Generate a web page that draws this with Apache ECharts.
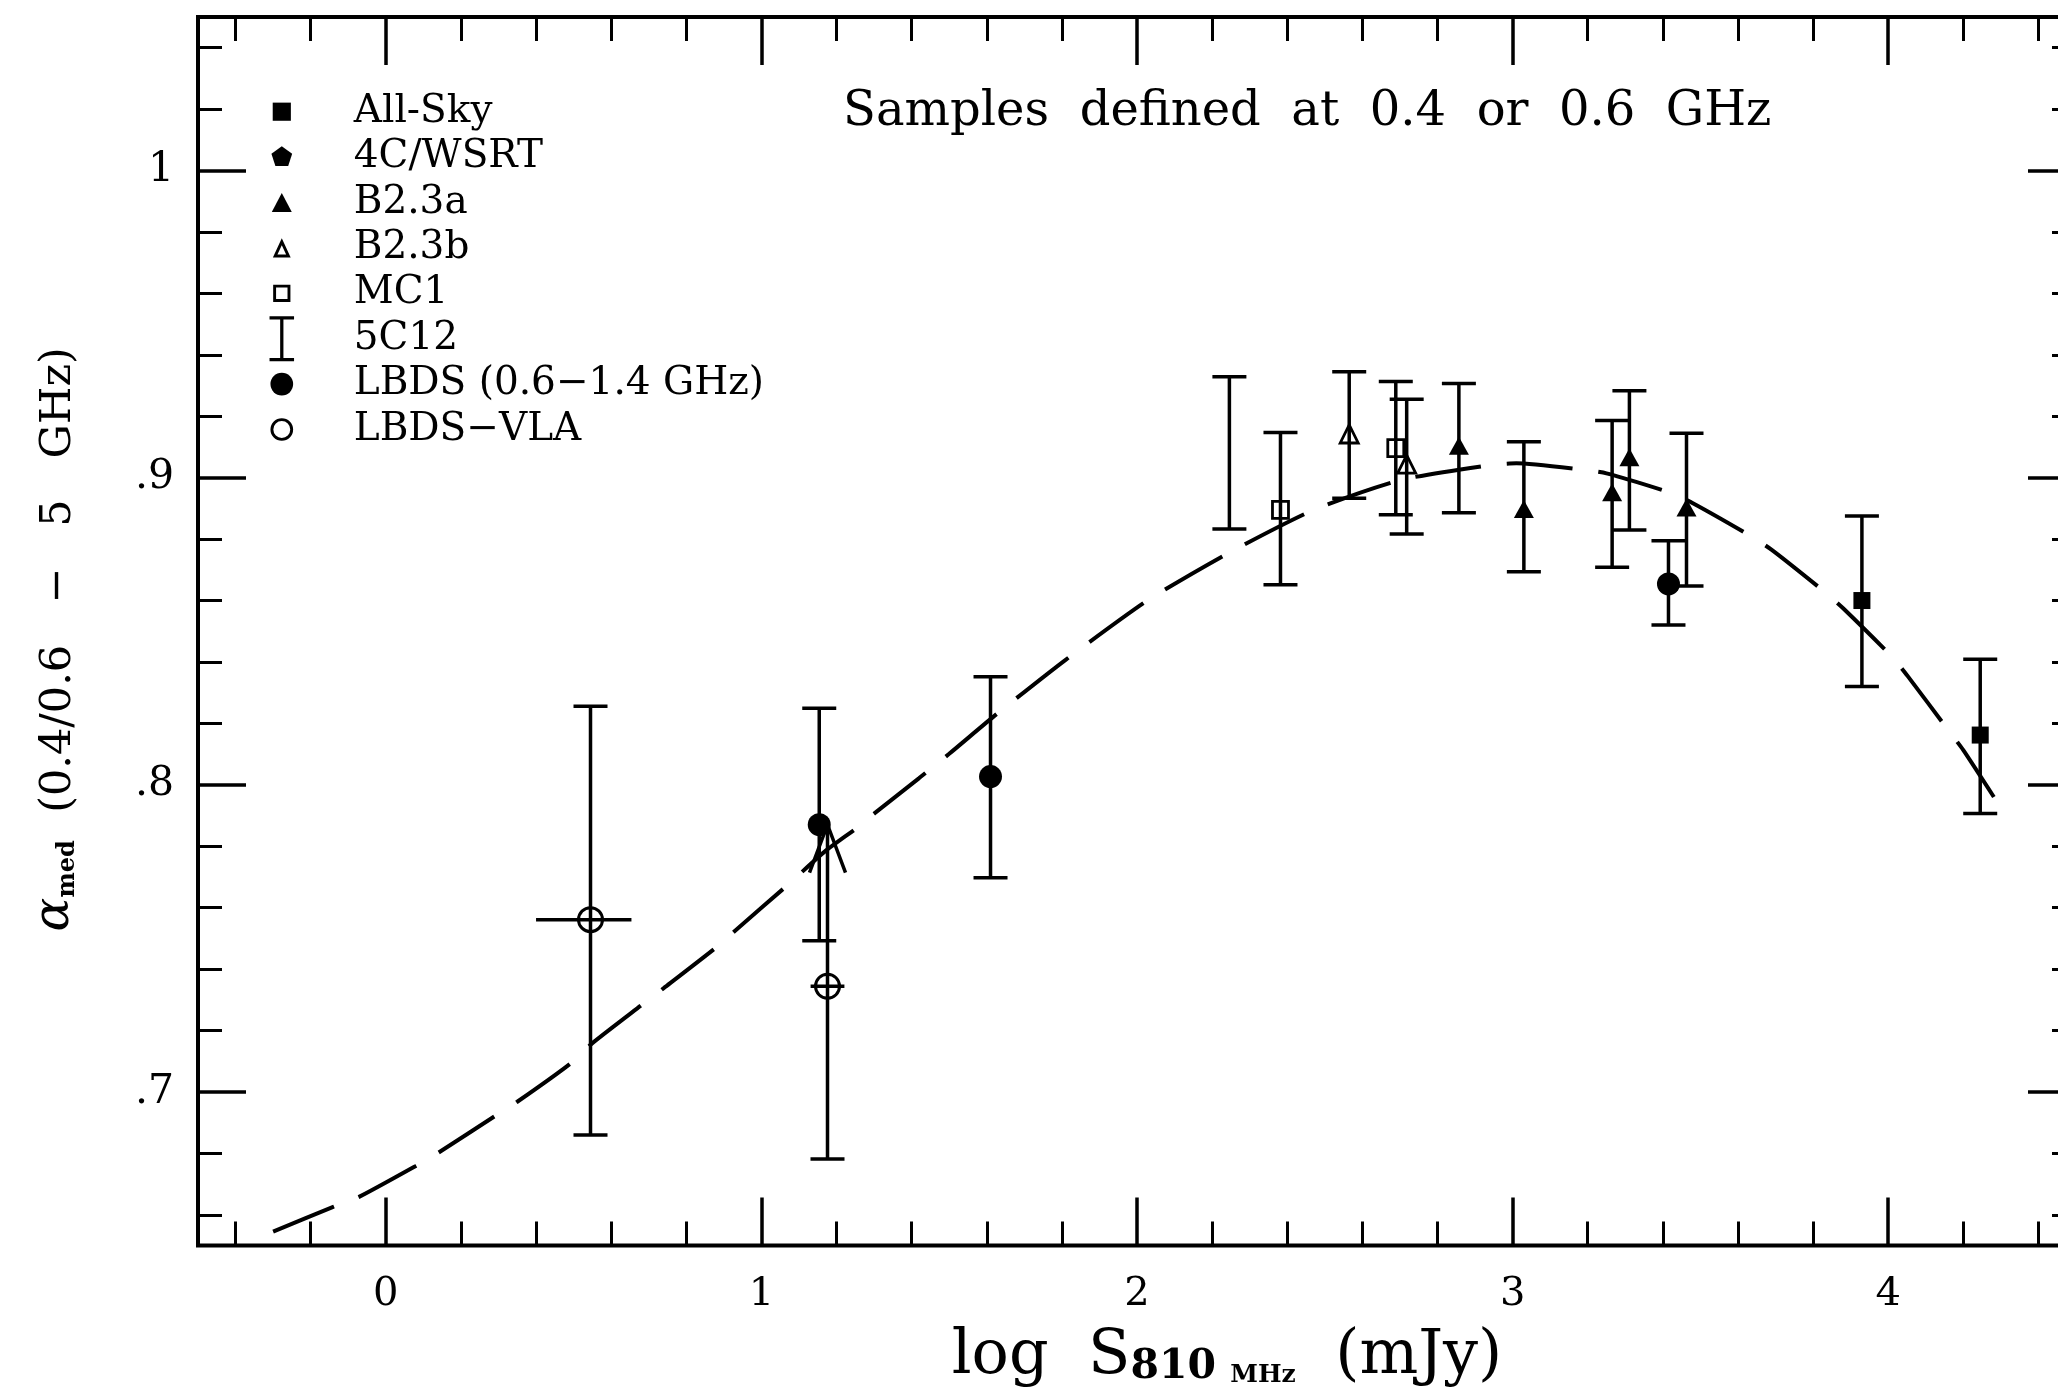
<!DOCTYPE html>
<html><head><meta charset="utf-8">
<script src="https://cdn.jsdelivr.net/npm/echarts@6/dist/echarts.min.js"></script>
<style>html,body{margin:0;padding:0;background:#fff}#c{width:2058px;height:1390px}</style>
</head><body><div id="c"></div>
<script>
// ---------- tick values / labels ----------
const xMajorTicks = [0, 1, 2, 3, 4];
const xTickLabels = ['0', '1', '2', '3', '4'];
const xMinorTicks = [-0.4, -0.2, 0.2, 0.4, 0.6, 0.8, 1.2, 1.4, 1.6, 1.8, 2.2, 2.4, 2.6, 2.8, 3.2, 3.4, 3.6, 3.8, 4.2, 4.4];
const yMajorTicks = [0.7, 0.8, 0.9, 1.0];
const yTickLabels = ['.7', '.8', '.9', '1'];
const yMinorTicks = [0.66, 0.68, 0.72, 0.74, 0.76, 0.78, 0.82, 0.84, 0.86, 0.88, 0.92, 0.94, 0.96, 0.98, 1.02, 1.04];

// ---------- samples: [logS, alpha, alphaLow, alphaHigh] ----------
const allSky = [[3.93, 0.860, 0.832, 0.8875], [4.245, 0.8162, 0.7907, 0.8409]];
const wsrt4C = [];
const b23a = [[2.857, 0.9101, 0.8886, 0.9307], [3.030, 0.8895, 0.8694, 0.9117], [3.265, 0.8949, 0.8708, 0.9186], [3.311, 0.9063, 0.8830, 0.9283], [3.463, 0.8900, 0.8647, 0.9145]];
const b23b = [[2.565, 0.9139, 0.8933, 0.9345], [2.718, 0.9041, 0.8817, 0.9255]];
const mc1 = [[2.382, 0.8895, 0.8651, 0.9147], [2.689, 0.9096, 0.8879, 0.9313]];
const c512 = [[2.246, 0.9081, 0.8833, 0.9329]];
const lbds = [[1.154, 0.7870, 0.7492, 0.8249], [1.610, 0.8027, 0.7697, 0.8352], [3.415, 0.8654, 0.8520, 0.8795]];
// [logS, alpha, alphaLow, alphaHigh, logSLow, logSHigh, upperArrow]
const lbdsVla = [[0.545, 0.7561, 0.686, 0.8256, 0.40, 0.654, 0], [1.176, 0.7344, 0.6782, 0.787, 1.131, 1.221, 1]];

// ---------- dashed model curve ----------
const curveX = [-0.30, -0.14, -0.07, 0.08, 0.14, 0.29, 0.35, 0.49, 0.55, 0.68, 0.74, 0.88, 0.93, 1.07, 1.17, 1.26, 1.30, 1.42, 1.50, 1.63, 1.81, 2.03, 2.25, 2.47, 2.70, 2.94, 3.01, 3.18, 3.25, 3.42, 3.48, 3.63, 3.69, 3.83, 3.88, 4.01, 4.05, 4.16, 4.20, 4.29];
const curveY = [0.6545, 0.6626, 0.6659, 0.6759, 0.6802, 0.6921, 0.6968, 0.7091, 0.7159, 0.7282, 0.7338, 0.7471, 0.7525, 0.7674, 0.7784, 0.7865, 0.7906, 0.8022, 0.8101, 0.8234, 0.8407, 0.8602, 0.8759, 0.8895, 0.8992, 0.9041, 0.9047, 0.9027, 0.9014, 0.8951, 0.8917, 0.8813, 0.8765, 0.8629, 0.8575, 0.8417, 0.8357, 0.8178, 0.8113, 0.7944];

const INK = '#000';
const SERIF = 'DejaVu Serif';
const LW = 3.5;

function errorBarItem(marker) {
  return function (params, api) {
    const x = api.value(0), y = api.value(1);
    const c = api.coord([x, y]);
    const lo = api.coord([x, api.value(2)]);
    const hi = api.coord([x, api.value(3)]);
    const capHalf = 17;
    const st = { stroke: INK, lineWidth: LW, fill: null };
    const kids = [
      { type: 'line', shape: { x1: c[0], y1: lo[1], x2: c[0], y2: hi[1] }, style: st },
      { type: 'line', shape: { x1: c[0] - capHalf, y1: lo[1], x2: c[0] + capHalf, y2: lo[1] }, style: st }
    ];
    const arrow = api.value(6);
    if (arrow === 1) {
      kids.push({ type: 'polyline', shape: { points: [[c[0] - 18, hi[1] + 48], [c[0], hi[1]], [c[0] + 18, hi[1] + 48]] }, style: st });
    } else {
      kids.push({ type: 'line', shape: { x1: c[0] - capHalf, y1: hi[1], x2: c[0] + capHalf, y2: hi[1] }, style: st });
    }
    const xl = api.value(4), xh = api.value(5);
    if (typeof xl === 'number' && !isNaN(xl) && xl !== xh) {
      const pl = api.coord([xl, y]), ph = api.coord([xh, y]);
      kids.push({ type: 'line', shape: { x1: pl[0], y1: c[1], x2: ph[0], y2: c[1] }, style: st });
    }
    const X = c[0], Y = c[1];
    if (marker === 'fillSquare') kids.push({ type: 'rect', shape: { x: X - 8.5, y: Y - 8.5, width: 17, height: 17 }, style: { fill: INK } });
    if (marker === 'fillTri') kids.push({ type: 'polygon', shape: { points: [[X, Y - 10], [X + 10, Y + 8], [X - 10, Y + 8]] }, style: { fill: INK } });
    if (marker === 'openTri') kids.push({ type: 'polygon', shape: { points: [[X, Y - 10], [X + 9, Y + 8], [X - 9, Y + 8]] }, style: { fill: null, stroke: INK, lineWidth: 2.8 } });
    if (marker === 'openSquare') kids.push({ type: 'rect', shape: { x: X - 8, y: Y - 8.5, width: 16, height: 17 }, style: { fill: null, stroke: INK, lineWidth: 2.8 } });
    if (marker === 'fillCircle') kids.push({ type: 'circle', shape: { cx: X, cy: Y, r: 11.5 }, style: { fill: INK } });
    if (marker === 'openCircle') kids.push({ type: 'circle', shape: { cx: X, cy: Y, r: 12 }, style: { fill: null, stroke: INK, lineWidth: 3 } });
    return { type: 'group', children: kids };
  };
}

function errSeries(name, data, marker) {
  return {
    type: 'custom', name: name, data: data, encode: { x: 0, y: 1 },
    itemStyle: { color: INK }, renderItem: errorBarItem(marker), z: 3
  };
}

// legend icons drawn inside a fixed box (corners fixed by the two leading moves)
const BOX = 'path://M-6,0M32,50';
const icons = {
  'All-Sky': BOX + 'M8,15h20v20h-20z',
  '4C/WSRT': BOX + 'M18,13L29.41,21.29L25.05,34.71L10.95,34.71L6.59,21.29z',
  'B2.3a': BOX + 'M18,14.5L29,35.5L7,35.5z',
  'B2.3b': BOX + 'M18,14.5L27.8,35.5L8.2,35.5zM18,22.07L13.23,32.3L22.77,32.3z',
  'MC1': BOX + 'M8.5,15.5h19v19h-19zM11.7,18.7v12.6h12.6v-12.6z',
  '5C12': BOX + 'M4.5,0.2h27v3.6h-11.7v42.4h11.7v3.6h-27v-3.6h11.7v-42.4h-11.7z',
  'LBDS (0.6\u22121.4 GHz)': BOX + 'M5.5,25a12.5,12.5 0 1,0 25,0a12.5,12.5 0 1,0 -25,0z',
  'LBDS\u2212VLA': BOX + 'M5.5,25a12.5,12.5 0 1,0 25,0a12.5,12.5 0 1,0 -25,0zM8.7,25a9.3,9.3 0 1,1 18.6,0a9.3,9.3 0 1,1 -18.6,0z'
};
const legendNames = Object.keys(icons);

const tickLine = { color: INK, width: 3.5 };
const minorLine = { color: INK, width: 3 };
const range = { x: [-0.5, 4.5], y: [0.65, 1.05] };

function xAx(pos, values, len, labels, extra) {
  return Object.assign({
    type: 'value', min: range.x[0], max: range.x[1], position: pos,
    axisLine: { show: false, onZero: false }, splitLine: { show: false },
    axisTick: { show: true, inside: true, length: len, customValues: values, lineStyle: len > 30 ? tickLine : minorLine },
    axisLabel: labels ? {
      show: true, customValues: xMajorTicks, margin: 29, color: INK, fontFamily: SERIF, fontSize: 40,
      formatter: function (v) { return xTickLabels[xMajorTicks.indexOf(Math.round(v * 10) / 10)] || ''; }
    } : { show: false }
  }, extra || {});
}
function yAx(pos, values, len, labels, extra) {
  return Object.assign({
    type: 'value', min: range.y[0], max: range.y[1], position: pos,
    axisLine: { show: false, onZero: false }, splitLine: { show: false },
    axisTick: { show: true, inside: true, length: len, customValues: values, lineStyle: len > 30 ? tickLine : minorLine },
    axisLabel: labels ? {
      show: true, customValues: yMajorTicks, margin: 24, color: INK, fontFamily: SERIF, fontSize: 41,
      formatter: function (v) { return yTickLabels[yMajorTicks.indexOf(Math.round(v * 100) / 100)] || ''; }
    } : { show: false }
  }, extra || {});
}

const chart = echarts.init(document.getElementById('c'), null, { renderer: 'canvas' });
chart.setOption({
  animation: false,
  backgroundColor: '#fff',
  title: {
    text: 'Samples  defined  at  0.4  or  0.6  GHz', left: 843, top: 89, padding: 0,
    textStyle: { fontFamily: SERIF, fontSize: 48, fontWeight: 'normal', color: INK }
  },
  grid: { left: 198, right: -18, top: 17, bottom: 144.5, show: true, borderColor: INK, borderWidth: 4, containLabel: false, outerBoundsMode: 'none' },
  legend: {
    orient: 'vertical', left: 260, top: 89, padding: 0, itemGap: 0, itemWidth: 143, itemHeight: 45.4,
    selectedMode: false, itemStyle: { borderWidth: 0 },
    textStyle: { fontFamily: SERIF, fontSize: 39, color: INK },
    data: legendNames.map(function (n) { return { name: n, icon: icons[n] }; })
  },
  xAxis: [
    xAx('bottom', xMajorTicks, 48, true, {
      name: '{a|log  S}{s|810 }{m|MHz}{a|  (mJy)}', nameLocation: 'middle', nameGap: 72,
      nameTextStyle: {
        padding: [0, 0, 0, 180],
        rich: {
          a: { fontFamily: SERIF, fontSize: 62, color: INK, lineHeight: 70, verticalAlign: 'bottom' },
          s: { fontFamily: SERIF, fontSize: 41, fontWeight: 'bold', color: INK, lineHeight: 36, verticalAlign: 'bottom' },
          m: { fontFamily: SERIF, fontSize: 25, fontWeight: 'bold', color: INK, lineHeight: 29, verticalAlign: 'bottom' }
        }
      }
    }),
    xAx('bottom', xMinorTicks, 24, false),
    xAx('top', xMajorTicks, 48, false),
    xAx('top', xMinorTicks, 24, false)
  ],
  yAxis: [
    yAx('left', yMajorTicks, 48, true, {
      name: '{a|\u03b1}{s|med}{b|  (0.4/0.6   \u2212   5   GHz)}', nameLocation: 'middle', nameRotate: 90, nameGap: 118,
      nameTextStyle: {
        padding: [0, 16, 0, 0],
        rich: {
          a: { fontFamily: SERIF, fontStyle: 'italic', fontSize: 50, color: INK, lineHeight: 54, verticalAlign: 'bottom' },
          s: { fontFamily: SERIF, fontWeight: 'bold', fontSize: 24, color: INK, lineHeight: 30, verticalAlign: 'bottom' },
          b: { fontFamily: SERIF, fontSize: 43, color: INK, lineHeight: 54, verticalAlign: 'bottom' }
        }
      }
    }),
    yAx('left', yMinorTicks, 24, false),
    yAx('right', yMajorTicks, 48, false),
    yAx('right', yMinorTicks, 24, false)
  ],
  series: [
    {
      type: 'line', name: 'model', data: curveX.map(function (x, i) { return [x, curveY[i]]; }),
      showSymbol: false, symbol: 'none', smooth: 0.2, z: 2,
      lineStyle: { color: INK, width: 4, type: [66, 26] }
    },
    errSeries('All-Sky', allSky, 'fillSquare'),
    errSeries('4C/WSRT', wsrt4C, 'none'),
    errSeries('B2.3a', b23a, 'fillTri'),
    errSeries('B2.3b', b23b, 'openTri'),
    errSeries('MC1', mc1, 'openSquare'),
    errSeries('5C12', c512, 'none'),
    errSeries('LBDS (0.6\u22121.4 GHz)', lbds, 'fillCircle'),
    errSeries('LBDS\u2212VLA', lbdsVla, 'openCircle')
  ]
});
</script></body></html>
